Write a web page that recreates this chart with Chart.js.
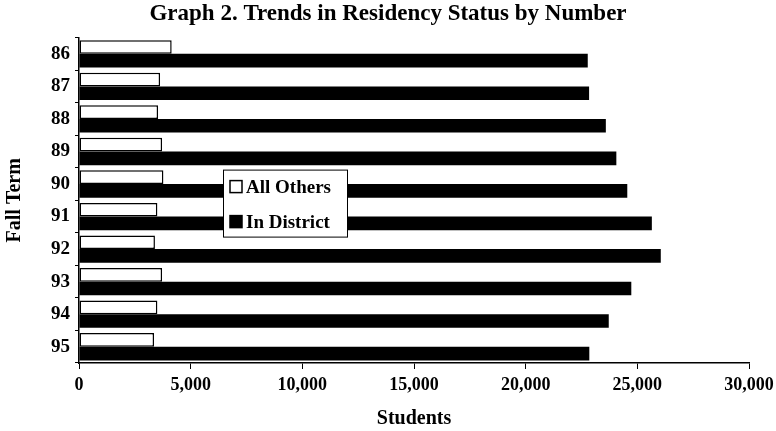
<!DOCTYPE html>
<html>
<head>
<meta charset="utf-8">
<script src="https://cdn.jsdelivr.net/npm/chart.js@4.4.0/dist/chart.umd.min.js"></script>
<style>
    html, body { margin: 0; padding: 0; background: #fff; }
    #wrap { width: 776px; height: 431px; }
</style>
</head>
<body>
<div id="wrap"><canvas id="residencyChart" width="776" height="431"></canvas></div>
<script>
// Fall terms and headcounts
const terms = ['86', '87', '88', '89', '90', '91', '92', '93', '94', '95'];
const allOthers = [4150, 3630, 3540, 3720, 3780, 3510, 3400, 3720, 3510, 3360];
const inDistrict = [22780, 22840, 23590, 24060, 24550, 25650, 26050, 24730, 23720, 22850];
const xTicks = [0, 5000, 10000, 15000, 20000, 25000, 30000];

const SERIF = '"Liberation Serif", "DejaVu Serif", serif';

// Boxed legend drawn inside the plot, like the original
const boxLegend = {
    id: 'boxLegend',
    afterDatasetsDraw(chart) {
        const ctx = chart.ctx;
        const area = chart.chartArea;
        const left = area.left + 144;
        const top = area.top + 132;
        const w = 124, h = 67;

        ctx.save();
        ctx.fillStyle = '#fff';
        ctx.fillRect(left, top, w, h);
        ctx.strokeStyle = '#000';
        ctx.lineWidth = 1;
        ctx.strokeRect(left + 0.5, top + 0.5, w, h);

        ctx.font = 'bold 19px ' + SERIF;
        ctx.textBaseline = 'middle';
        chart.data.datasets.forEach((ds, i) => {
            const cy = top + 17 + i * 35;
            ctx.fillStyle = ds.backgroundColor;
            ctx.fillRect(left + 7, cy - 6, 12, 12);
            ctx.strokeStyle = '#000';
            ctx.lineWidth = 1.5;
            ctx.strokeRect(left + 7, cy - 6, 12, 12);
            ctx.fillStyle = '#000';
            ctx.fillText(ds.label, left + 23, cy + 1);
        });
        ctx.restore();
    }
};

const ctx = document.getElementById('residencyChart').getContext('2d');

new Chart(ctx, {
    type: 'bar',
    data: {
        labels: terms,
        datasets: [
            {
                label: 'All Others',
                data: allOthers,
                backgroundColor: '#ffffff',
                borderColor: '#000000',
                borderWidth: 1.5,
                borderSkipped: false,
                categoryPercentage: 0.84,
                barPercentage: 1.0
            },
            {
                label: 'In District',
                data: inDistrict,
                backgroundColor: '#000000',
                borderWidth: 0,
                categoryPercentage: 0.84,
                barPercentage: 1.0
            }
        ]
    },
    options: {
        indexAxis: 'y',
        responsive: false,
        animation: false,
        layout: {
            padding: { left: 0, right: 0, top: 0, bottom: 0 }
        },
        plugins: {
            legend: { display: false },
            tooltip: { enabled: false },
            title: {
                display: true,
                text: 'Graph 2. Trends in Residency Status by Number',
                color: '#000',
                font: { family: SERIF, size: 23, weight: 'bold' },
                padding: { top: 0, bottom: 10 }
            }
        },
        scales: {
            x: {
                min: 0,
                max: 30000,
                afterBuildTicks(scale) {
                    scale.ticks = xTicks.map(v => ({ value: v }));
                },
                ticks: {
                    color: '#000',
                    font: { family: SERIF, size: 18, weight: 'bold' },
                    padding: 6,
                    maxRotation: 0,
                    callback: (v) => Number(v).toLocaleString('en-US')
                },
                grid: {
                    drawOnChartArea: false,
                    color: '#000',
                    tickLength: 6
                },
                border: { color: '#000', width: 1.5 },
                title: {
                    display: true,
                    text: 'Students',
                    color: '#000',
                    font: { family: SERIF, size: 20, weight: 'bold' },
                    padding: { top: 0, bottom: 0 }
                },
                afterFit(scale) {
                    scale.height = 68;
                    scale.paddingRight = 27;
                }
            },
            y: {
                ticks: {
                    color: '#000',
                    font: { family: SERIF, size: 19, weight: 'bold' },
                    padding: 5
                },
                grid: {
                    drawOnChartArea: false,
                    color: '#000',
                    tickLength: 4
                },
                border: { color: '#000', width: 1.5 },
                title: {
                    display: true,
                    text: 'Fall Term',
                    color: '#000',
                    font: { family: SERIF, size: 20, weight: 'bold' },
                    padding: { top: 3, bottom: 0 }
                },
                afterFit(scale) {
                    scale.width = 79;
                }
            }
        }
    },
    plugins: [boxLegend]
});
</script>
</body>
</html>
